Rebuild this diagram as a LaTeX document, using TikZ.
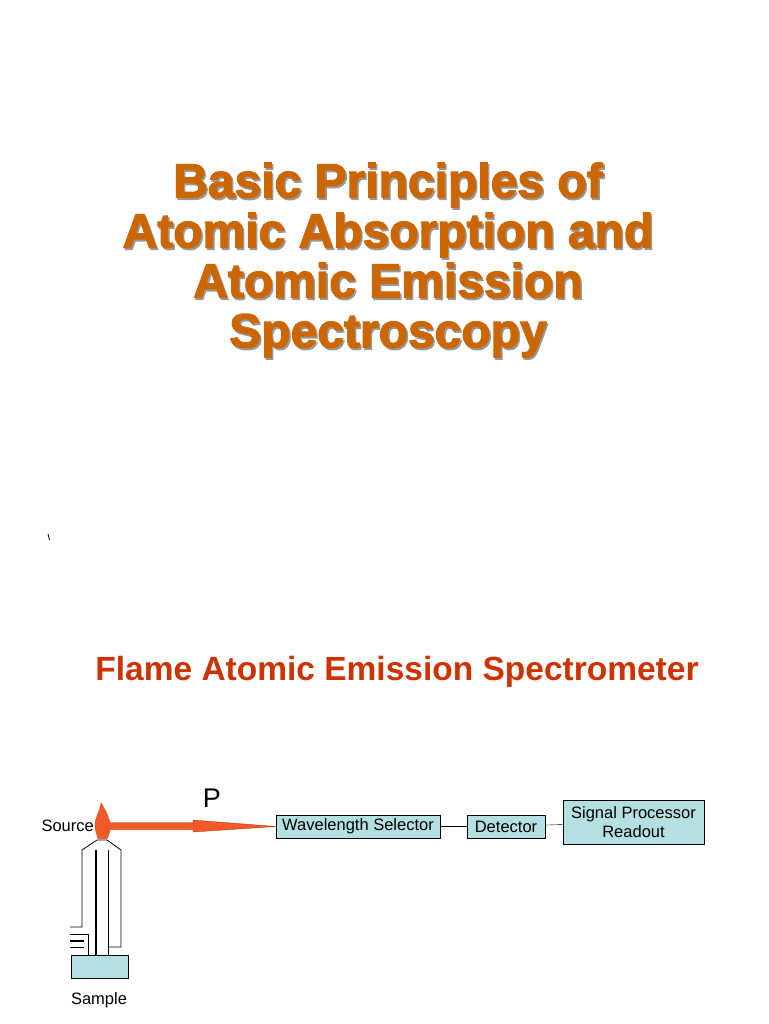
\documentclass[tikz,border=0pt]{standalone}
\usepackage{fontspec}
\setmainfont{Liberation Sans}
\newfontfamily\heavy[FakeBold=2.5]{Liberation Sans Bold}
\begin{document}
\begin{tikzpicture}[x=1pt,y=-1pt,
  box/.style={draw,fill=boxc,inner sep=0pt,font=\fontsize{16.5}{19.5}\selectfont},
  lbl/.style={font=\fontsize{16.5}{19}\selectfont},
  ttl/.style={font=\fontsize{48}{50}\heavy,text=titlec,align=center}]
\definecolor{titlec}{RGB}{204,102,0}
\definecolor{subc}{RGB}{204,51,0}
\definecolor{boxc}{RGB}{180,224,226}
\definecolor{flamec}{RGB}{240,90,40}
\useasboundingbox (0,0) rectangle (768,1024);
\fill[white] (0,0) rectangle (768,1024);
\node[ttl,text=black!40] at (389.5,262) {Basic Principles of\\Atomic Absorption and\\Atomic Emission\\Spectroscopy};
\node[ttl] (title) at (388,260) {Basic Principles of\\Atomic Absorption and\\Atomic Emission\\Spectroscopy};
\draw[line width=0.8pt] (48,534) -- (49.5,540);
\node[font=\fontsize{33.5}{38}\selectfont\bfseries,text=subc] (sub) at (397,672) {Flame Atomic Emission Spectrometer};
% boxes
\node[box,minimum width=164,minimum height=23] (ws) at (358,826.5) {Wavelength Selector};
\node[box,minimum width=78,minimum height=23] (det) at (506,826.5) {Detector};
\node[box,minimum width=141,minimum height=44,align=center] (sp) at (633.5,822) {Signal Processor\\Readout};
\draw (ws) -- (det);
\draw (det) -- (sp);
% burner
\begin{scope}[line width=0.8pt]
\draw (70,927) -- (82,927) -- (82,850) -- (97,840) -- (107,840) -- (121,850) -- (121,947) -- (108,947);
\draw (108,850) -- (108,962);
\draw (70,934) -- (88,934) -- (88,962);
\draw (70,947) -- (84,947);
\end{scope}
\draw[line width=1.6pt] (96,850) -- (96,962);
\draw[line width=1.4pt] (70,941) -- (84,941);
\node[draw,fill=boxc,minimum width=57,minimum height=23,inner sep=0pt] (samp) at (99.5,966.5) {};
\node[lbl] (sl) at (99,1000) {Sample};
% beam
\coordinate (tip) at (ws.west);
\fill[flamec,draw=subc!80!black,line width=0.3pt] (108,822.5) -- (193,822.5) -- (193,820) -- (tip) -- (193,832) -- (193,829.5) -- (108,829.5) -- cycle;
% flame
\fill[flamec] (98,839) .. controls (94,830) and (94,822) .. (97,815) .. controls (99,811) and (100,807) .. (101,802) .. controls (104,808) and (107,812) .. (109,818) .. controls (112,824) and (111,833) .. (107,839) -- cycle;
\node[lbl,anchor=east,inner sep=1pt] (src) at (95,826) {Source};
\node[font=\fontsize{27}{30}\selectfont] (p) at (212,798) {P};
\end{tikzpicture}
\end{document}
